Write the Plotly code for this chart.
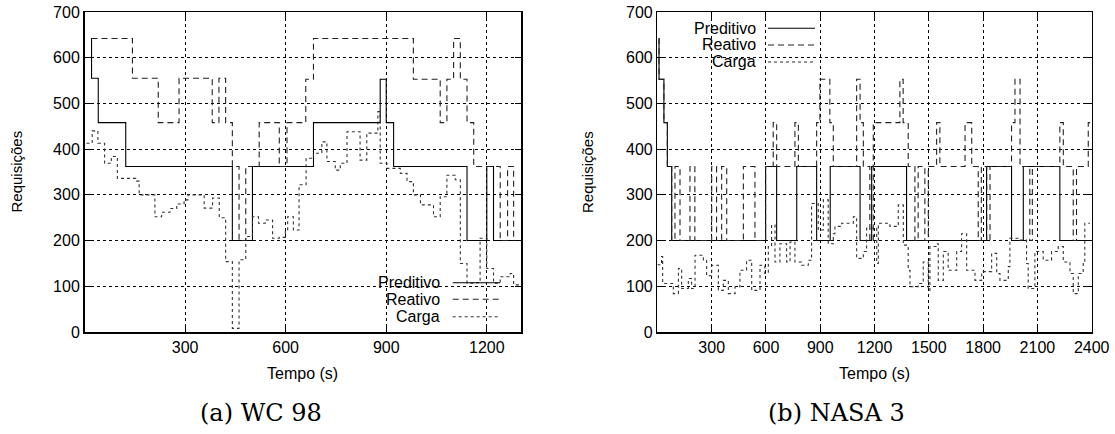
import plotly.graph_objects as go

W, H = 1115, 434

# ---------------- data: (a) WC 98 ----------------
wc_pred_t = [20, 21, 41, 123, 441, 501, 683, 882, 900, 922, 1141, 1200, 1220, 1302]
wc_pred_v = [642, 555, 458, 362, 200, 362, 458, 553, 458, 362, 200, 362, 200, 200]

wc_reat_t = [21, 143, 220, 282, 381, 401, 421, 441, 461, 481, 521, 581, 604, 660, 683,
             981, 1061, 1081, 1101, 1121, 1141, 1161, 1240, 1262, 1280, 1302]
wc_reat_v = [642, 555, 458, 555, 458, 555, 458, 362, 200, 362, 458, 362, 458, 553, 642,
             553, 458, 553, 642, 553, 458, 362, 200, 362, 200, 200]

wc_carga_t = [6, 23, 40, 60, 80, 98, 153, 163, 202, 210, 230, 255, 275, 297, 309, 357, 382,
              402, 421, 441, 461, 481, 501, 519, 539, 561, 581, 599, 606, 623, 640, 661,
              683, 708, 723, 748, 763, 783, 822, 842, 870, 875, 882, 902, 942, 962, 981,
              1002, 1041, 1061, 1081, 1106, 1121, 1141, 1161, 1180, 1200, 1220, 1240,
              1270, 1280, 1300]
wc_carga_v = [413, 440, 413, 369, 384, 336, 330, 300, 300, 252, 262, 270, 280, 289, 300, 271,
              293, 250, 154, 8, 158, 209, 252, 238, 245, 205, 207, 223, 252, 223, 322, 380,
              391, 416, 373, 354, 369, 438, 376, 435, 435, 482, 369, 358, 347, 329, 300,
              278, 252, 296, 343, 333, 150, 107, 108, 205, 139, 107, 121,
              128, 103, 100]

# ---------------- data: (b) NASA 3 ----------------
na_pred_t = [8, 9, 36, 55, 79, 598, 659, 770, 880, 955, 1120, 1184, 1377, 1819, 1957, 2022, 2224, 2400]
na_pred_v = [642, 553, 458, 362, 200, 362, 200, 362, 200, 362, 200, 362, 200, 362, 200, 362, 200, 200]

na_reat_t = [8, 9, 36, 55, 79, 97, 125, 180, 207, 300, 327, 355, 383, 475, 539, 598,
             640, 659, 760, 779, 880, 898, 953, 972, 1101, 1120, 1138, 1174, 1193,
             1230, 1340, 1358, 1386, 1423, 1441, 1478, 1497, 1515, 1543, 1561, 1700, 1737,
             1773, 1790, 1820, 1838, 1957, 1976, 2004, 2058, 2072, 2086, 2224, 2243,
             2298, 2316, 2335, 2381, 2400]
na_reat_v = [642, 553, 458, 362, 200, 362, 200, 362, 200, 362, 200, 362, 200, 362, 200, 362,
             458, 362, 458, 362, 458, 553, 458, 362, 553, 458, 362, 200, 458,
             458, 553, 458, 362, 200, 362, 200, 362, 362, 458, 362, 458, 362,
             200, 362, 200, 362, 458, 553, 362, 200, 362, 362, 458, 362,
             200, 362, 362, 458, 458]

na_carga_t = [0, 23, 29, 88, 116, 134, 171, 189, 208, 254, 272, 300, 337, 364, 392, 429, 456,
              493, 521, 558, 567, 594, 613, 631, 650, 677, 714, 733, 760, 797, 834, 852,
              889, 917, 944, 972, 981, 1018, 1083, 1101, 1138, 1156, 1212, 1221, 1285,
              1331, 1359, 1386, 1396, 1441, 1469, 1497, 1506, 1543, 1552, 1580, 1607,
              1654, 1681, 1709, 1755, 1792, 1847, 1875, 1893, 1939, 1948, 2003, 2040,
              2049, 2086, 2132, 2178, 2215, 2243, 2280, 2298, 2326, 2353, 2362, 2390]
na_carga_v = [147, 165, 106, 84, 139, 95, 117, 95, 168, 157, 123, 146, 91, 113, 84, 99, 135,
              157, 91, 91, 146, 128, 187, 234, 153, 193, 153, 197, 153, 146, 157, 281,
              223, 289, 193, 215, 231, 238, 252, 161, 176, 227, 150, 238, 231,
              278, 190, 135, 99, 106, 153, 91, 187, 193, 113, 176, 135,
              176, 215, 135, 113, 132, 172, 128, 113, 143, 205, 201, 150,
              95, 176, 157, 176, 187, 153, 128, 84, 128, 153, 238, 238]

x_ticks_a = [300, 600, 900, 1200]
x_ticks_b = [300, 600, 900, 1200, 1500, 1800, 2100, 2400]
y_ticks = [0, 100, 200, 300, 400, 500, 600, 700]
series_names = ["Preditivo", "Reativo", "Carga"]
captions = ["(a) WC 98", "(b) NASA 3"]

FONT = "Liberation Sans"
DASHES = ["solid", "6px,4px", "3px,3px"]
COLORS = ["#000000", "#222222", "#333333"]


def px_x(p):
    return p / W


def px_y(p):
    return 1 - p / H


fig = go.Figure()

groups = [
    ("x", "y", [(wc_pred_t, wc_pred_v), (wc_reat_t, wc_reat_v), (wc_carga_t, wc_carga_v)]),
    ("x2", "y2", [(na_pred_t, na_pred_v), (na_reat_t, na_reat_v), (na_carga_t, na_carga_v)]),
]
for xa, ya, series in groups:
    for i, (t, v) in enumerate(series):
        fig.add_trace(go.Scatter(
            x=t, y=v, xaxis=xa, yaxis=ya, mode="lines", line_shape="hv",
            name=series_names[i], showlegend=False, hoverinfo="skip",
            line=dict(color=COLORS[i], width=1.1, dash=DASHES[i]),
        ))

plot_top, plot_bot = 12, 332
ydom = [px_y(plot_bot), px_y(plot_top)]
axis_common = dict(
    showline=True, linecolor="black", linewidth=1.5, mirror="ticks",
    ticks="inside", ticklen=6, tickwidth=1, tickcolor="black",
    showgrid=True, gridcolor="black", gridwidth=1, griddash="dot",
    zeroline=False, automargin=False,
    tickfont=dict(family=FONT, size=16, color="black"),
)
fig.update_layout(
    width=W, height=H, margin=dict(l=0, r=0, t=0, b=0, pad=0, autoexpand=False),
    paper_bgcolor="white", plot_bgcolor="white", showlegend=False,
    xaxis=dict(domain=[px_x(84.5), px_x(521)], range=[0, 1302], tickvals=x_ticks_a,
               anchor="y", **axis_common),
    yaxis=dict(domain=ydom, range=[0, 700], tickvals=y_ticks, anchor="x", **axis_common),
    xaxis2=dict(domain=[px_x(657.4), px_x(1091.7)], range=[0, 2400], tickvals=x_ticks_b,
                anchor="y2", **axis_common),
    yaxis2=dict(domain=ydom, range=[0, 700], tickvals=y_ticks, anchor="x2", **axis_common),
)

annotations = []
shapes = []


def add_text(text, xc, yc, size, family=FONT, xanchor="center", angle=0):
    annotations.append(dict(text=text, x=px_x(xc), y=px_y(yc), xref="paper", yref="paper",
                            xanchor=xanchor, yanchor="middle", textangle=angle,
                            showarrow=False, font=dict(family=family, size=size, color="black")))


# axis titles
for xc in (15.5, 587):
    add_text("Requisições", xc, 172, 15, angle=-90)
for xc in (302.75, 874.5):
    add_text("Tempo (s)", xc, 373, 16)
# captions
for xc, cap in zip((261, 836), captions):
    add_text(cap, xc, 413, 24, family="DejaVu Serif")

# custom gnuplot-style keys (text right, sample on right)
keys = [
    dict(box=(350, 273, 506, 331), text_r=441.7, ys=(282.7, 299.3, 316.7), l0=452.7, l1=500),
    dict(box=(659, 13, 825, 70), text_r=758.3, ys=(28.3, 45, 62), l0=768, l1=815),
]
for k in keys:
    x0, y0, x1, y1 = k["box"]
    shapes.append(dict(type="rect", xref="paper", yref="paper", x0=px_x(x0), x1=px_x(x1),
                       y0=px_y(y1), y1=px_y(y0), fillcolor="white", line=dict(width=0),
                       layer="between"))
    for i, yy in enumerate(k["ys"]):
        add_text(series_names[i], k["text_r"], yy, 16, xanchor="right")
        shapes.append(dict(type="line", xref="paper", yref="paper", x0=px_x(k["l0"]),
                           x1=px_x(k["l1"]), y0=px_y(yy), y1=px_y(yy),
                           line=dict(color=COLORS[i], width=1.1, dash=DASHES[i])))

fig.update_layout(annotations=annotations, shapes=shapes)
fig.write_html("out.html", config={"displayModeBar": False, "staticPlot": True},
               post_script="document.body.style.margin='0';document.body.style.padding='0';"
                           "document.body.style.overflow='hidden';")
